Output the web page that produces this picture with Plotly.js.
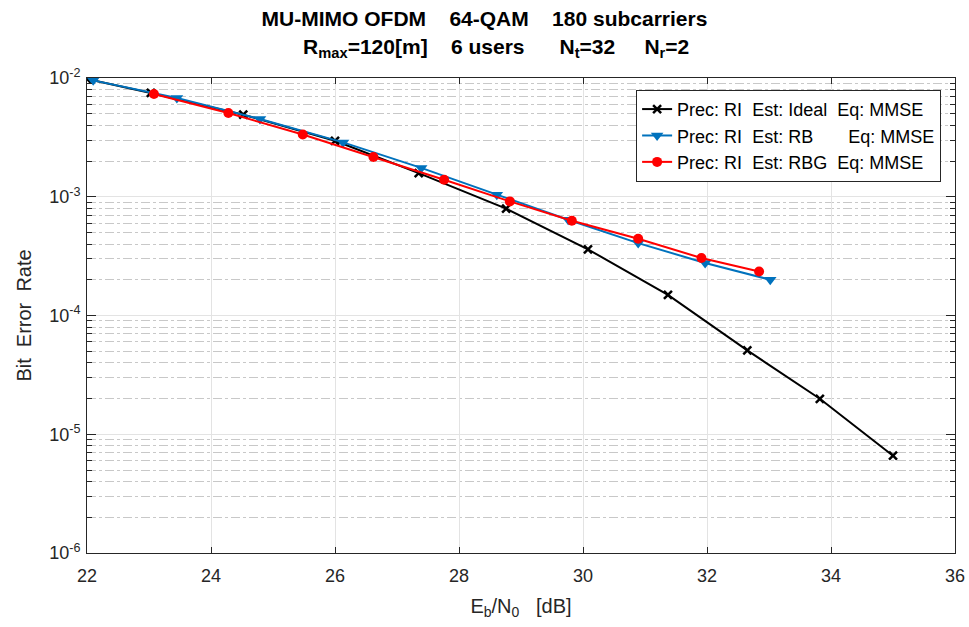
<!DOCTYPE html>
<html>
<head>
<meta charset="utf-8">
<script src="https://cdn.plot.ly/plotly-3.0.1.min.js"></script>
<style>html,body{margin:0;padding:0;background:#fff}#chart{width:969px;height:627px}</style>
</head>
<body>
<div id="chart"></div>
<script>
// Eb/N0 [dB] and BER values
const idealX = [22.0, 23.03, 24.52, 26.0, 27.35, 28.76, 30.08, 31.37, 32.65, 33.82, 35.0];
const idealY = [9.8e-3, 7.48e-3, 4.91e-3, 2.96e-3, 1.58e-3, 7.94e-4, 3.61e-4, 1.49e-4, 5.08e-5, 1.99e-5, 6.6e-6];

const rbX = [22.10, 23.45, 24.79, 26.13, 27.39, 28.61, 29.76, 30.89, 31.97, 33.02];
const rbY = [9.55e-3, 6.79e-3, 4.52e-3, 2.87e-3, 1.75e-3, 1.04e-3, 6.41e-4, 4.07e-4, 2.77e-4, 2.0e-4];

const rbgX = [23.08, 24.28, 25.48, 26.62, 27.76, 28.82, 29.82, 30.89, 31.91, 32.84];
const rbgY = [7.33e-3, 5.07e-3, 3.34e-3, 2.16e-3, 1.39e-3, 9.14e-4, 6.28e-4, 4.43e-4, 3.05e-4, 2.35e-4];

const seriesNames = [
  "Prec: RI\u00A0\u00A0Est: Ideal\u00A0\u00A0Eq: MMSE",
  "Prec: RI\u00A0\u00A0Est: RB\u00A0\u00A0\u00A0\u00A0\u00A0\u00A0\u00A0Eq: MMSE",
  "Prec: RI\u00A0\u00A0Est: RBG\u00A0\u00A0Eq: MMSE"
];
const xTicks = [22, 24, 26, 28, 30, 32, 34, 36];
const yTicks = [1e-6, 1e-5, 1e-4, 1e-3, 1e-2];
const yTickText = ["10<sup>-6</sup>", "10<sup>-5</sup>", "10<sup>-4</sup>", "10<sup>-3</sup>", "10<sup>-2</sup>"];

const FONT = "'Liberation Sans', Arial, sans-serif";

const traces = [
  {x: idealX, y: idealY, name: seriesNames[0], mode: 'lines+markers',
   line: {color: '#000000', width: 2},
   marker: {symbol: 'x-thin-open', size: 8, color: '#000000', line: {width: 2.5, color: '#000000'}}},
  {x: rbX, y: rbY, name: seriesNames[1], mode: 'lines+markers',
   line: {color: '#0072BD', width: 2},
   marker: {symbol: 'triangle-down', size: 11, color: '#0072BD'}},
  {x: rbgX, y: rbgY, name: seriesNames[2], mode: 'lines+markers',
   line: {color: '#FF0000', width: 2},
   marker: {symbol: 'circle', size: 10, color: '#FF0000'}}
];

const layout = {
  width: 969, height: 627,
  paper_bgcolor: '#ffffff', plot_bgcolor: '#ffffff',
  margin: {l: 87, r: 14, t: 78, b: 74},
  font: {family: FONT, size: 16, color: '#262626'},
  title: {
    text: "<b>MU-MIMO OFDM\u00A0\u00A0\u00A0\u00A064-QAM\u00A0\u00A0\u00A0\u00A0180 subcarriers</b><br><b>\u00A0\u00A0\u00A0\u00A0R<sub>max</sub>=120[m]\u00A0\u00A0\u00A0\u00A06 users\u00A0\u00A0\u00A0\u00A0\u00A0\u00A0N<sub>t</sub>=32\u00A0\u00A0\u00A0\u00A0\u00A0N<sub>r</sub>=2</b>",
    x: 0.5, xref: 'container', xanchor: 'center',
    y: 0.958, yref: 'container', yanchor: 'top',
    font: {family: FONT, size: 21, color: '#000000'}
  },
  xaxis: {
    type: 'linear', range: [22, 36], tickvals: xTicks,
    showgrid: true, gridcolor: '#e3e3e3', gridwidth: 1,
    ticks: 'inside', ticklen: 6, tickcolor: '#262626',
    showline: true, linecolor: '#262626', linewidth: 1, mirror: 'allticks',
    zeroline: false, ticklabelstandoff: 6,
    tickfont: {family: FONT, size: 18, color: '#262626'},
    title: {text: "E<sub>b</sub>/N<sub>0</sub>\u00A0\u00A0\u00A0[dB]", font: {family: FONT, size: 20, color: '#262626'}, standoff: 14}
  },
  yaxis: {
    type: 'log', range: [-6, -2], tickvals: yTicks, ticktext: yTickText,
    showgrid: true, gridcolor: '#e3e3e3', gridwidth: 1,
    ticks: 'inside', ticklen: 9, tickcolor: '#262626',
    showline: true, linecolor: '#262626', linewidth: 1, mirror: 'allticks',
    zeroline: false, ticklabelstandoff: 2,
    tickfont: {family: FONT, size: 18, color: '#262626'},
    minor: {dtick: 'D1', ticks: 'inside', ticklen: 5, tickcolor: '#262626',
            showgrid: true, gridcolor: '#c8c8c8', griddash: 'dashdot', gridwidth: 1},
    title: {text: "Bit\u00A0\u00A0Error\u00A0\u00A0Rate", font: {family: FONT, size: 20, color: '#262626'}, standoff: 12}
  },
  legend: {
    x: 0.984, xanchor: 'right', y: 0.975, yanchor: 'top',
    bgcolor: '#ffffff', bordercolor: '#262626', borderwidth: 1,
    font: {family: FONT, size: 18, color: '#000000'},
    tracegroupgap: 0, itemwidth: 30
  },
  showlegend: true
};

Plotly.newPlot('chart', traces, layout, {displayModeBar: false, staticPlot: true});
</script>
</body>
</html>
